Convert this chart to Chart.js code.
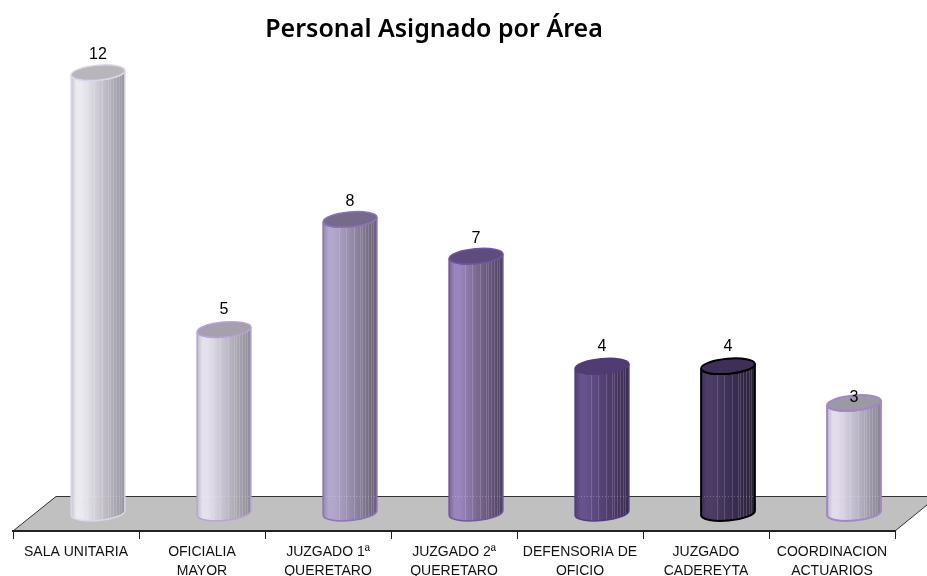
<!DOCTYPE html>
<html><head><meta charset="utf-8">
<style>html,body{margin:0;padding:0;background:#fff}#w{width:927px;height:576px}</style>
<script src="https://cdn.jsdelivr.net/npm/chart.js@4"></script>
</head><body><div id="w"><canvas id="c" width="927" height="576"></canvas></div>
<script>
const categories = [
  ['SALA UNITARIA'], ['OFICIALIA','MAYOR'], ['JUZGADO 1ª','QUERETARO'], ['JUZGADO 2ª','QUERETARO'],
  ['DEFENSORIA DE','OFICIO'], ['JUZGADO','CADEREYTA'], ['COORDINACION','ACTUARIOS']
];
const personal = [12, 5, 8, 7, 4, 4, 3];
const titleText = 'Personal Asignado por Área';
const sideLight = ['#eceaf1','#e4e0ec','#b3a6cc','#9a86bc','#66528c','#4c3d66','#e0dcec'];
const sideMid   = ['#c8c5cf','#bfbbc8','#928aa8','#78668f','#523f74','#3c2e54','#bcb8c8'];
const sideDark  = ['#96949d','#8e8b95','#6a6175','#4c4160','#3a2d50','#2c2238','#85828c'];
const topFill   = ['#b8b5bd','#a6a0ae','#756a8a','#5f4c7e','#4f3c70','#3e2f58','#9c98a4'];
const edgeColor = ['#dcd6ea','#b8a3d4','#8c72b8','#6f56a0','#4f3c78','#000000','#a485c8'];
const edgeWidth = [1.5,1.5,1.5,1.5,1.5,2,2];
const labelGap  = [18,20,18,18,20,20,5];
const stripeAt  = [.30,.42,.57,.68,.73,.78,.83,.88,.93];

const DEPTH_X = 22, DEPTH_Y = -18, RY = 7.5, TILT = -0.09;

class CylinderController extends Chart.BarController {
  draw() {
    const ctx = this.chart.ctx, meta = this.getMeta();
    const floorY = this.chart.chartArea.bottom + 2 * DEPTH_Y;
    meta.data.forEach((bar, i) => {
      const cx = bar.x + DEPTH_X, top = bar.y + DEPTH_Y, base = bar.base + DEPTH_Y, rx = bar.width / 2;
      const body = () => {
        ctx.beginPath();
        ctx.ellipse(cx, top, rx, RY, TILT, Math.PI, 0, true);
        ctx.ellipse(cx, base, rx, RY, TILT, 0, Math.PI, false);
        ctx.closePath();
      };
      ctx.save();
      const g = ctx.createLinearGradient(cx - rx, 0, cx + rx, 0);
      g.addColorStop(0, sideMid[i]);
      g.addColorStop(.1, sideLight[i]);
      g.addColorStop(.2, sideLight[i]);
      g.addColorStop(.55, sideMid[i]);
      g.addColorStop(1, sideDark[i]);
      body();
      ctx.fillStyle = g;
      ctx.fill();
      ctx.save();
      ctx.clip();
      ctx.strokeStyle = 'rgba(255,255,255,.16)';
      ctx.lineWidth = 1;
      stripeAt.forEach(f => {
        const x = Math.round(cx - rx + f * 2 * rx) + .5;
        ctx.beginPath(); ctx.moveTo(x, top - 20); ctx.lineTo(x, base + 20); ctx.stroke();
      });
      ctx.strokeStyle = 'rgba(255,255,255,.25)';
      ctx.setLineDash([1, 2]);
      ctx.beginPath(); ctx.moveTo(cx - rx, floorY + 1.5); ctx.lineTo(cx + rx, floorY + 1.5); ctx.stroke();
      ctx.restore();
      ctx.strokeStyle = edgeColor[i];
      ctx.lineWidth = edgeWidth[i];
      body();
      ctx.stroke();
      ctx.beginPath();
      ctx.ellipse(cx, top, rx, RY, TILT, 0, Math.PI * 2);
      ctx.fillStyle = topFill[i];
      ctx.fill();
      ctx.stroke();
      ctx.restore();
    });
  }
}
CylinderController.id = 'cylinder';
CylinderController.defaults = Chart.BarController.defaults;
CylinderController.overrides = Chart.BarController.overrides;
Chart.register(CylinderController);

const floorPlugin = {
  id: 'floor',
  beforeDraw(chart) {
    const {ctx, chartArea: a} = chart;
    const b = a.bottom, backY = b + 2 * DEPTH_Y + 1;
    const backL = a.left + 43, backR = a.right + 43;
    ctx.save();
    ctx.beginPath();
    ctx.moveTo(a.left, b); ctx.lineTo(backL, backY); ctx.lineTo(backR, backY); ctx.lineTo(a.right, b); ctx.closePath();
    ctx.fillStyle = '#c0c0c0';
    ctx.fill();
    ctx.strokeStyle = '#333';
    ctx.lineWidth = 1;
    ctx.beginPath();
    ctx.moveTo(a.left, b); ctx.lineTo(backL, backY + .5); ctx.lineTo(backR, backY + .5); ctx.moveTo(a.right, b); ctx.lineTo(backR, backY);
    ctx.stroke();
    ctx.font = '600 25px "Noto Sans"';
    ctx.fillStyle = '#000';
    ctx.textAlign = 'center';
    ctx.textBaseline = 'alphabetic';
    ctx.fillText(titleText, 434, 37);
    ctx.restore();
  }
};
const labelPlugin = {
  id: 'valueLabels',
  afterDatasetsDraw(chart) {
    const ctx = chart.ctx;
    ctx.save();
    ctx.font = '16px "Liberation Sans"';
    ctx.fillStyle = '#000';
    ctx.textAlign = 'center';
    ctx.textBaseline = 'middle';
    chart.getDatasetMeta(0).data.forEach((bar, i) => {
      ctx.fillText(String(personal[i]), bar.x + DEPTH_X, bar.y + DEPTH_Y - labelGap[i]);
    });
    ctx.restore();
  }
};

new Chart(document.getElementById('c'), {
  type: 'cylinder',
  data: { labels: categories, datasets: [{ label: 'Personal', data: personal, backgroundColor: sideMid, borderColor: edgeColor,
    barPercentage: 54 / 126, categoryPercentage: 1 }] },
  plugins: [floorPlugin, labelPlugin],
  options: {
    responsive: false, animation: false,
    layout: { padding: { left: 13, right: 32, top: 54, bottom: 0 } },
    plugins: { legend: { display: false }, tooltip: { enabled: false }, title: { display: false } },
    scales: {
      x: { type: 'category', offset: true,
        grid: { display: true, drawOnChartArea: false, drawTicks: true, tickLength: 8, color: '#222', offset: true },
        border: { display: true, color: '#222', width: 2 },
        afterFit(s) { s.height = 45; },
        ticks: { autoSkip: false, maxRotation: 0, minRotation: 0, padding: 4, color: '#111',
          font: { family: '"Liberation Sans"', size: 14, lineHeight: 19 / 14 } } },
      y: { display: false, min: 0, max: 13 }
    }
  }
});
</script></body></html>
